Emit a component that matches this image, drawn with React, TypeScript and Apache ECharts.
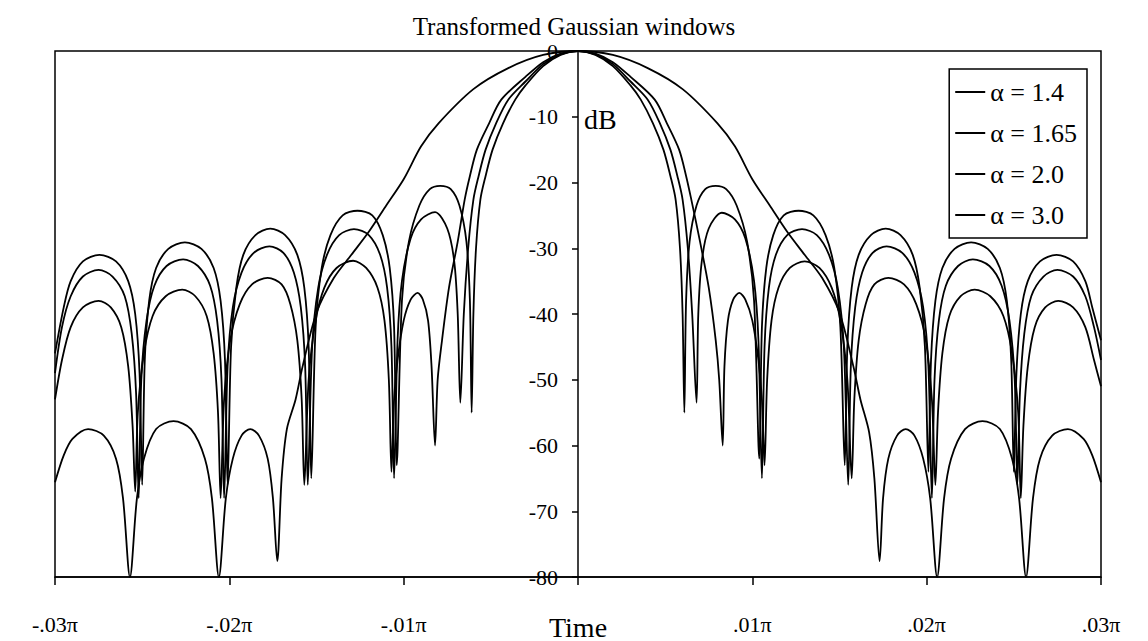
import React, { useEffect, useRef } from "react";
import * as echarts from "echarts";

// x values are in units of 0.001·π (axis spans -.03π … .03π); y values in dB
const chartTitle = "Transformed Gaussian windows";
const seriesNames = ["α = 1.4", "α = 1.65", "α = 2.0", "α = 3.0"];
const xTickValues = [-30, -20, -10, 0, 10, 20, 30];
const yTickValues = [0, -10, -20, -30, -40, -50, -60, -70, -80];
const yUnit = "dB";
const xName = "Time";

const alpha14Left: number[][] = [
  [-30, -46], [-29.5, -39], [-29.1, -35], [-28.4, -32], [-27.45, -31], [-26.5, -32], [-25.8, -35], [-25.4, -40], [-25.15, -49], [-25.0, -66],
  [-24.85, -47], [-24.6, -38], [-24.2, -33], [-23.5, -30.1], [-22.55, -29.1], [-21.6, -30.1], [-20.9, -33], [-20.5, -38], [-20.25, -47], [-20.1, -66],
  [-19.9, -45], [-19.6, -36], [-19.2, -31], [-18.5, -28], [-17.65, -27], [-16.8, -28], [-16.1, -31], [-15.7, -36], [-15.45, -45], [-15.3, -65],
  [-15.05, -42], [-14.7, -33], [-14.2, -28], [-13.5, -25], [-12.65, -24.3], [-11.8, -25], [-11.2, -28], [-10.8, -33], [-10.55, -42], [-10.4, -63],
  [-10.1, -38], [-9.7, -29], [-9.1, -23.5], [-8.5, -21], [-7.9, -20.5], [-7.3, -21], [-6.8, -23.5], [-6.4, -29], [-6.2, -38], [-6.1, -55],
  [-6.0, -40], [-5.85, -30], [-5.6, -22.6], [-5.3, -19], [-4.9, -15], [-4.3, -11], [-3.6, -7.4], [-3, -5.2], [-2, -2.3], [-1, -0.6],
];
const alpha14Right: number[][] = [
  [0, 0], [1, -0.6], [2, -2.3], [3, -5.2], [3.6, -7.4], [4.3, -11], [4.9, -15], [5.3, -19], [5.6, -22.6], [5.85, -30], [6.0, -40], [6.1, -55],
  [6.2, -38], [6.4, -29], [6.8, -23.5], [7.3, -21], [7.9, -20.5], [8.5, -21], [9.1, -23.5], [9.7, -29], [10.1, -38], [10.4, -62],
  [10.55, -42], [10.8, -33], [11.2, -28], [11.8, -25], [12.65, -24.3], [13.5, -25], [14.2, -28], [14.7, -33], [15.05, -42], [15.3, -63],
  [15.45, -45], [15.7, -36], [16.1, -31], [16.8, -28], [17.65, -27], [18.5, -28], [19.2, -31], [19.6, -36], [19.9, -45], [20.1, -64],
  [20.25, -47], [20.5, -38], [20.9, -33], [21.6, -30.1], [22.55, -29.1], [23.5, -30.1], [24.2, -33], [24.6, -38], [24.85, -47], [25.0, -64],
  [25.15, -49], [25.4, -40], [25.8, -35], [26.5, -32], [27.45, -31], [28.4, -32], [29.1, -35], [29.5, -39], [30, -44],
];

const alpha165Left: number[][] = [
  [-30, -49], [-29.6, -42], [-29.1, -37.3], [-28.4, -34.3], [-27.5, -33.3], [-26.7, -34.3], [-26.0, -37.3], [-25.6, -43], [-25.35, -52], [-25.2, -68],
  [-25.05, -50], [-24.75, -41], [-24.3, -35.7], [-23.6, -32.7], [-22.65, -31.7], [-21.8, -32.7], [-21.1, -35.7], [-20.7, -41], [-20.45, -50], [-20.3, -68],
  [-20.1, -48], [-19.8, -39], [-19.3, -33.7], [-18.6, -30.7], [-17.7, -29.7], [-16.9, -30.7], [-16.3, -33.7], [-15.9, -39], [-15.65, -48], [-15.5, -66],
  [-15.25, -45], [-14.9, -36], [-14.4, -31], [-13.7, -28], [-12.85, -27.1], [-12.0, -28], [-11.35, -31], [-10.95, -36], [-10.7, -45], [-10.55, -65],
  [-10.35, -44], [-10.1, -35], [-9.6, -28.5], [-9.0, -25.6], [-8.2, -24.5], [-7.5, -27], [-7.1, -32], [-6.9, -40], [-6.75, -53.5],
  [-6.55, -40], [-6.3, -30], [-6.0, -22.6], [-5.7, -19], [-5.3, -15], [-4.7, -11], [-4.0, -7.4], [-3, -4.6], [-2, -2], [-1, -0.5],
];
const alpha165Right: number[][] = [
  [0, 0], [1, -0.5], [2, -2], [3, -4.6], [4.0, -7.4], [4.7, -11], [5.3, -15], [5.7, -19], [6.0, -22.6], [6.3, -30], [6.55, -40], [6.8, -53.5],
  [6.9, -40], [7.1, -32], [7.5, -27], [8.25, -24.6], [9.0, -25.6], [9.6, -28.5], [10.1, -35], [10.35, -44], [10.55, -65],
  [10.7, -45], [10.95, -36], [11.35, -31], [12.0, -28], [12.85, -27.1], [13.7, -28], [14.4, -31], [14.9, -36], [15.25, -45], [15.5, -66],
  [15.65, -48], [15.9, -39], [16.3, -33.7], [16.9, -30.7], [17.7, -29.7], [18.6, -30.7], [19.3, -33.7], [19.8, -39], [20.1, -48], [20.3, -68],
  [20.45, -50], [20.7, -41], [21.1, -35.7], [21.8, -32.7], [22.65, -31.7], [23.6, -32.7], [24.3, -35.7], [24.75, -41], [25.05, -50], [25.2, -66],
  [25.35, -52], [25.6, -43], [26.0, -37.3], [26.7, -34.3], [27.5, -33.3], [28.4, -34.3], [29.1, -37.3], [29.6, -42], [30, -47],
];

const alpha20Left: number[][] = [
  [-30, -53], [-29.6, -47], [-29.1, -42], [-28.4, -39], [-27.5, -38], [-26.8, -39], [-26.2, -42], [-25.8, -48], [-25.55, -57], [-25.4, -67],
  [-25.25, -55], [-24.9, -46], [-24.4, -40.3], [-23.65, -37.3], [-22.7, -36.3], [-21.95, -37.3], [-21.3, -40.3], [-20.9, -46], [-20.65, -55], [-20.5, -68],
  [-20.3, -53], [-19.95, -44], [-19.4, -38.5], [-18.7, -35.5], [-17.8, -34.5], [-17.0, -35.5], [-16.5, -38.5], [-16.1, -44], [-15.85, -53], [-15.7, -66],
  [-15.45, -50], [-15.05, -41], [-14.55, -36], [-13.85, -33], [-12.9, -31.9], [-12.15, -33], [-11.5, -36], [-11.1, -41], [-10.85, -50], [-10.7, -64],
  [-10.55, -53], [-10.35, -47], [-10.0, -41], [-9.6, -37.8], [-9.2, -36.8], [-8.9, -37.8], [-8.6, -41], [-8.4, -48], [-8.2, -60],
  [-8.05, -50], [-7.8, -44], [-7.4, -36], [-6.9, -29], [-6.5, -22.6], [-6.2, -19], [-5.8, -15], [-5.1, -11], [-4.4, -7.4], [-3, -3.9], [-2, -1.7], [-1, -0.4],
];
const alpha20Right: number[][] = [
  [0, 0], [1, -0.4], [2, -1.7], [3, -3.9], [4.4, -7.4], [5.1, -11], [5.8, -15], [6.2, -19], [6.5, -22.6], [7.0, -29], [7.5, -36], [7.9, -44], [8.1, -50], [8.3, -60],
  [8.4, -48], [8.6, -41], [8.9, -37.8], [9.25, -36.8], [9.6, -37.8], [10.0, -41], [10.35, -47], [10.55, -53], [10.7, -63],
  [10.85, -50], [11.1, -41], [11.5, -36], [12.15, -33], [13.0, -32], [13.85, -33], [14.55, -36], [15.05, -41], [15.45, -50], [15.7, -65],
  [15.85, -53], [16.1, -44], [16.5, -38.5], [17.0, -35.5], [17.8, -34.5], [18.7, -35.5], [19.4, -38.5], [19.95, -44], [20.3, -53], [20.5, -66],
  [20.65, -55], [20.9, -46], [21.3, -40.3], [21.95, -37.3], [22.75, -36.3], [23.65, -37.3], [24.4, -40.3], [24.9, -46], [25.25, -55], [25.4, -68],
  [25.55, -57], [25.8, -48], [26.2, -42], [26.8, -39], [27.55, -38], [28.4, -39], [29.1, -42], [29.6, -47], [30, -51],
];

const alpha30Left: number[][] = [
  [-30, -65.6], [-29.5, -61.5], [-29.0, -59], [-28.1, -57.5], [-27.2, -58.5], [-26.5, -62], [-26.1, -68], [-25.7, -80],
  [-25.3, -68], [-24.9, -62], [-24.2, -57.5], [-23.2, -56.3], [-22.2, -57.5], [-21.4, -62], [-21.0, -68], [-20.6, -80],
  [-20.2, -68], [-19.8, -62], [-19.3, -58.5], [-18.8, -57.5], [-18.3, -58.5], [-17.8, -62], [-17.5, -68], [-17.25, -77.6],
  [-17.0, -65], [-16.7, -57.5], [-16.2, -53], [-15.8, -48], [-15, -39.8], [-14, -34.5], [-13, -31], [-12, -27.5], [-11, -23.5], [-10, -19.5],
  [-9, -14.5], [-8, -11], [-6, -5.8], [-4, -2.6], [-2, -0.6],
];
const alpha30Right: number[][] = [
  [0, 0], [2, -0.6], [4, -2.6], [6, -5.8], [8, -11], [9, -14.5], [10, -19.5], [11, -23.5], [12, -27.5], [13, -31], [14, -34.5], [15, -39.8],
  [15.8, -48], [16.2, -53], [16.7, -58], [17.0, -65], [17.3, -77.6],
  [17.5, -68], [17.8, -62], [18.3, -58.5], [18.8, -57.5], [19.3, -58.5], [19.8, -62], [20.2, -68], [20.6, -80],
  [21.0, -68], [21.4, -62], [22.2, -57.5], [23.2, -56.3], [24.2, -57.5], [24.9, -62], [25.3, -68], [25.7, -80],
  [26.1, -68], [26.5, -62], [27.2, -58.5], [28.1, -57.5], [29.0, -59], [29.5, -61.5], [30, -65.6],
];

const seriesData = [
  alpha14Left.concat(alpha14Right),
  alpha165Left.concat(alpha165Right),
  alpha20Left.concat(alpha20Right),
  alpha30Left.concat(alpha30Right),
];

const FONT = "'Liberation Serif', 'Times New Roman', serif";

function formatX(v: number): string {
  if (v === 0) return "{t|" + xName + "}";
  const sign = v < 0 ? "-" : "";
  return sign + ".0" + Math.round(Math.abs(v) / 10) + "π";
}

export default function App() {
  const ref = useRef<HTMLDivElement>(null);
  useEffect(() => {
    const chart = echarts.init(ref.current as HTMLDivElement, null, { renderer: "svg" });
    const gridLeft = 55;
    const gridRight = 47;
    const plotWidth = 1148 - gridLeft - gridRight;
    chart.setOption({
      animation: false,
      backgroundColor: "#ffffff",
      title: {
        text: chartTitle,
        left: "center",
        top: 9,
        textStyle: { fontFamily: FONT, fontSize: 25, fontWeight: "normal", color: "#000" },
      },
      legend: {
        data: seriesNames,
        orient: "vertical",
        right: 61,
        top: 69,
        icon: "rect",
        itemWidth: 30,
        itemHeight: 2,
        itemGap: 15,
        padding: [10, 10, 10, 6],
        borderColor: "#000",
        borderWidth: 1.5,
        backgroundColor: "#fff",
        textStyle: { fontFamily: FONT, fontSize: 26, color: "#000" },
      },
      grid: {
        left: gridLeft,
        right: gridRight,
        top: 51,
        bottom: 63,
        show: true,
        borderColor: "#000",
        borderWidth: 1.5,
        backgroundColor: "transparent",
      },
      xAxis: {
        type: "value",
        min: -30,
        max: 30,
        interval: 10,
        axisLine: { onZero: false, lineStyle: { color: "#000", width: 1.5 } },
        axisTick: { show: true, length: 8, lineStyle: { color: "#000", width: 1.5 } },
        splitLine: { show: false },
        axisLabel: {
          margin: 36,
          color: "#000",
          fontFamily: FONT,
          fontSize: 22,
          formatter: formatX,
          rich: { t: { fontFamily: FONT, fontSize: 28, color: "#000" } },
        },
      },
      yAxis: {
        type: "value",
        min: -80,
        max: 0,
        interval: 10,
        offset: -plotWidth / 2,
        axisLine: { onZero: false, lineStyle: { color: "#000", width: 1.5 } },
        axisTick: { show: true, length: 6, lineStyle: { color: "#000", width: 1.5 } },
        splitLine: { show: false },
        axisLabel: {
          margin: 20,
          color: "#000",
          fontFamily: FONT,
          fontSize: 22,
          formatter: (v: number) => (yTickValues.indexOf(v) >= 0 ? String(v) : ""),
        },
      },
      graphic: [
        {
          type: "text",
          left: 584,
          top: 105,
          style: { text: yUnit, fontFamily: FONT, fontSize: 28, fill: "#000" },
        },
      ],
      series: seriesNames.map((name, i) => ({
        name,
        type: "line",
        data: seriesData[i],
        symbol: "none",
        smooth: 0.3,
        clip: true,
        lineStyle: { color: "#000", width: 1.8 },
        itemStyle: { color: "#000" },
      })),
    });
    return () => chart.dispose();
  }, []);
  return (
    <div
      ref={ref}
      style={{ position: "fixed", left: 0, top: 0, width: 1148, height: 641, background: "#fff" }}
    />
  );
}
